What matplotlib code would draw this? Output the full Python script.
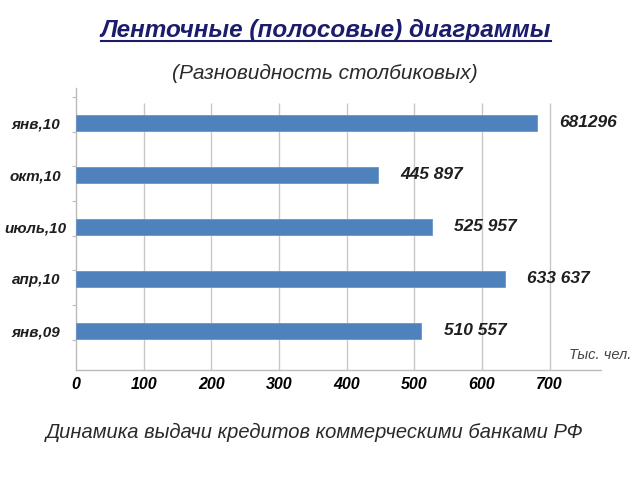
import matplotlib
matplotlib.use("Agg")
import matplotlib.pyplot as plt
import numpy as np
from matplotlib.lines import Line2D

# данные (тыс. чел.)
periods = ["янв,09", "апр,10", "июль,10", "окт,10", "янв,10"]
values = [510.557, 633.637, 525.957, 445.897, 681.296]
value_labels = ["510 557", "633 637", "525 957", "445 897", "681296"]
x_ticks = [0, 100, 200, 300, 400, 500, 600, 700]

plt.rcParams["font.family"] = ["Liberation Sans", "DejaVu Sans"]

fig = plt.figure(figsize=(6.4, 4.8), dpi=100)
ax = fig.add_axes([76 / 640, 1 - 370 / 480, (601 - 76) / 640, (370 - 88) / 480])

ypos = np.arange(len(periods))
ax.barh(ypos, values, height=0.31, color="#4F81BD", edgecolor="#6A94C8",
        linewidth=0.6, zorder=3)

for y, v, lab in zip(ypos, values, value_labels):
  ax.annotate(lab, (v, y), xytext=(16, 0), textcoords="offset points",
              ha="left", va="center", fontsize=12.5, fontweight="bold",
              fontstyle="italic", color="#1e1e1e")

ax.set_xlim(0, 776)
ax.set_ylim(-0.75, 4.67)

ax.set_xticks(x_ticks)
ax.set_xticklabels([str(t) for t in x_ticks], fontsize=11.5,
                   fontweight="bold", fontstyle="italic", color="black")
ax.tick_params(axis="x", length=0, pad=5)
# сетка не доходит до верха области
ax.vlines(x_ticks[1:], -0.75, 4.38, color="#c8c8c8", linewidth=1, zorder=0)

ax.set_yticks(ypos)
ax.set_yticklabels(periods, fontsize=11, fontweight="bold",
                   fontstyle="italic", color="#1e1e1e", ha="center")
ax.tick_params(axis="y", which="major", length=0, pad=29)
ax.set_yticks(np.arange(-0.17, 4.6, 0.667), minor=True)
ax.tick_params(axis="y", which="minor", length=3, color="#bbbbbb", width=0.8)

for s in ["top", "right"]:
  ax.spines[s].set_visible(False)
for s in ["left", "bottom"]:
  ax.spines[s].set_color("#bbbbbb")
  ax.spines[s].set_linewidth(1)

# заголовки
title = fig.text(326 / 640, 1 - 30 / 480, "Ленточные (полосовые) диаграммы",
                 ha="center", va="center", fontsize=17.5, fontweight="bold",
                 fontstyle="italic", color="#1c1c6c")
fig.text(325 / 640, 1 - 73 / 480, "(Разновидность столбиковых)",
         ha="center", va="center", fontsize=15, fontstyle="italic",
         color="#2a2a2a")
fig.text(315 / 640, 1 - 432 / 480,
         "Динамика выдачи кредитов коммерческими банками РФ",
         ha="center", va="center", fontsize=14.5, fontstyle="italic",
         color="#2a2a2a")
fig.text(631 / 640, 1 - 355 / 480, "Тыс. чел.", ha="right", va="center",
         fontsize=10.5, fontstyle="italic", color="#444444")

# подчёркивание заголовка
fig.canvas.draw()
bb = title.get_window_extent().transformed(fig.transFigure.inverted())
uy = bb.y0 + 1 / 480
fig.add_artist(Line2D([bb.x0, bb.x1], [uy, uy], color="#1c1c6c",
                      linewidth=1.5, transform=fig.transFigure))

fig.savefig("out.png", dpi=100)
